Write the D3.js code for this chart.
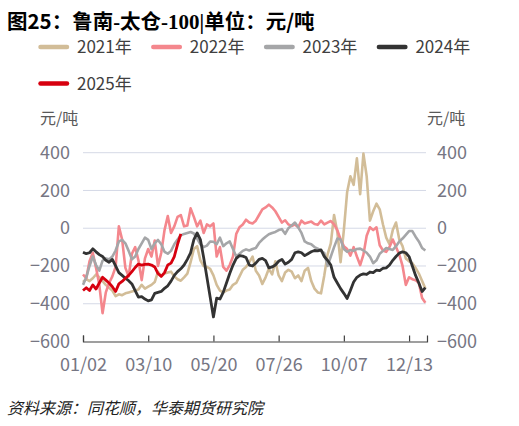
<!DOCTYPE html>
<html>
<head>
<meta charset="utf-8">
<script src="https://cdn.jsdelivr.net/npm/d3@7"></script>
<style>
  body { margin: 0; background: #fff; }
  svg { display: block; font-family: "Noto Sans CJK SC", "Noto Sans", sans-serif; }
</style>
</head>
<body>
<div id="chart"></div>
<script>
// x positions are point indices, labels put on every 20th point
var tickIdx = [0, 20, 40, 60, 80, 100];
var tickLabels = ["01/02", "03/10", "05/20", "07/26", "10/07", "12/13"];
var yTicks = [-600, -400, -200, 0, 200, 400];

var years = ["2021年", "2022年", "2023年", "2024年", "2025年"];
var colors = ["#d2bd98", "#f4878d", "#a5a6a8", "#333333", "#d7000f"];

var y2021 = [-285, -270, -280, -265, -245, -260, -280, -300, -315, -330,
  -360, -350, -355, -345, -340, -335, -330, -325, -300, -320,
  -310, -300, -285, -230, -255, -240, -235, -230, -255, -270,
  -278, -260, -240, -180, -110, -95, -170, -200, -205, -215,
  -250, -300, -330, -340, -330, -325, -300, -290, -255, -220,
  -205, -180, -150, -225, -250, -295, -260, -215, -245, -175,
  -250, -280, -235, -220, -230, -265, -250, -280, -225, -210,
  -280, -320, -340, -345, -250, -140, -80, 70, -20, -180,
  -10, 190, 275, 230, 370, 180, 395, 275, 40, 90,
  130, 100, 20, -50, -85, -10, 30, -60, -95, -160,
  -175, -185, -210, -240, -280, -320];

var y2022 = [-245, -265, -175, -130, -210, -300, -450, -340, -290, -255,
  -205, 10, -60, -210, -255, -135, -100, -170, -275, -160,
  -110, -150, -65, -200, -130, -10, 65, -25, 10, 60,
  70, 10, 15, 105, 60, 10, 40, -25, 20, 10,
  25, -150, -100, -205, -225, -195, -150, -30, 5, 20,
  45, 30, 25, 40, 70, 100, 110, 125, 110, 90,
  60, 30, 42, 20, 12, 20, 5, 40, 25, 30,
  35, 22, 18, 40, 20, 30, 38, 20, -10, -60,
  -95, -110, -145, -100, -150, -195, -140, -40, 5, -10,
  5, -90, -118, -125, -100, -60, -100, -140, -200, -300,
  -260, -270, -275, -290, -370, -395];

var y2023 = [-300, -260, -200, -150, -195, -225, -172, -160, -165, -150,
  -118, -70, -62, -80, -120, -165, -150, -110, -80, -50,
  -62, -110, -80, -62, -85, -125, -135, -120, -85, -60,
  -38, -30, -25, -20, -28, -55, -85, -100, -92, -70,
  -72, -85, -50, -95, -80, -70, -110, -150, -135, -120,
  -112, -118, -110, -105, -78, -60, -45, -32, -25, -20,
  -10, -5, -30, 0, 15, 30, 5, -25, -70, -80,
  -85, -100, -108, -120, -132, -200, -150, -100, -55, -60,
  -110, -125, -115, -120, -110, -108, -118, -130, -150, -185,
  -170, -135, -120, -105, -110, -115, -95, -70, -55, -35,
  -15, -15, -45, -70, -105, -118];

var y2024 = [-127, -135, -130, -109, -125, -140, -150, -170, -180, -165,
  -200, -235, -250, -265, -278, -295, -330, -365, -362, -375,
  -385, -380, -345, -340, -335, -318, -305, -280, -250, -230,
  -215, -195, -165, -130, -60, -25, -60, -155, -260, -365,
  -470, -370, -375, -340, -290, -240, -195, -160, -145, -148,
  -155, -195, -200, -185, -165, -160, -172, -210, -205, -195,
  -175, -165, -190, -180, -165, -130, -125, -130, -145, -135,
  -125, -118, -120, -115, -150, -170, -195, -260, -290, -320,
  -345, -372, -330, -285, -260, -248, -242, -245, -232, -235,
  -222, -225, -212, -210, -195, -170, -150, -132, -125, -130,
  -150, -200, -250, -290, -335, -315];

var y2025 = [-330, -315, -330, -300, -322, -290, -260, -275, -290, -310,
  -335, -295, -282, -265, -250, -230, -208, -190, -195, -192,
  -190, -195, -205, -240, -255, -235, -195, -185, -150, -85,
  -30];

var series = [y2021, y2022, y2023, y2024, y2025];

var svgWidth = 519, svgHeight = 426;

var svg = d3.select("#chart").append("svg")
  .attr("width", svgWidth)
  .attr("height", svgHeight);

var x = d3.scaleLinear().domain([0, 105.5]).range([83, 427]);
var y = d3.scaleLinear().domain([-600, 400]).range([341.5, 152.7]);

// title, the "-100|" part is in a serif face like the original
var title = svg.append("text")
  .attr("x", 7).attr("y", 29)
  .attr("font-size", 20.5).attr("font-weight", "bold").attr("fill", "#000");
title.append("tspan").text("图25：鲁南");
title.append("tspan").attr("font-family", "Liberation Serif").text("-");
title.append("tspan").text("太仓");
title.append("tspan").attr("font-family", "Liberation Serif").attr("font-size", 21).text("-100|");
title.append("tspan").text("单位：元/吨");

// legend
var legend = svg.append("g");
years.forEach(function(name, i) {
  var lx = 39 + (i % 4) * 112.8;
  var ly = 47 + Math.floor(i / 4) * 36.5;
  var item = legend.append("g").attr("transform", `translate(${lx}, ${ly})`);
  item.append("line")
    .attr("x1", 1.5).attr("x2", 28)
    .attr("stroke", colors[i]).attr("stroke-width", 4.5)
    .attr("stroke-linecap", "round");
  item.append("text")
    .attr("x", 38).attr("y", 6)
    .attr("font-size", 17).attr("fill", "#404040")
    .text(name);
});

// unit labels
svg.append("text").attr("x", 40).attr("y", 124)
  .attr("font-size", 16).attr("fill", "#595959").text("元/吨");
svg.append("text").attr("x", 427).attr("y", 124)
  .attr("font-size", 16).attr("fill", "#595959").text("元/吨");

// gridlines
svg.append("g").selectAll("line")
  .data(yTicks.filter(d => d > -600))
  .enter().append("line")
  .attr("x1", 83).attr("x2", 426)
  .attr("y1", d => y(d)).attr("y2", d => y(d))
  .attr("stroke", "#d5d9e6").attr("stroke-width", 1);

// left and right value axes (labels only)
var leftAxis = d3.axisLeft(y).tickValues(yTicks).tickSize(0).tickPadding(13);
var rightAxis = d3.axisRight(y).tickValues(yTicks).tickSize(0).tickPadding(10);

var yAxisL = svg.append("g").attr("transform", "translate(83,0)").call(leftAxis);
var yAxisR = svg.append("g").attr("transform", "translate(427,0)").call(rightAxis);
[yAxisL, yAxisR].forEach(function(a) {
  a.select(".domain").remove();
  a.selectAll("text")
    .attr("font-size", 18)
    .attr("font-family", "Noto Sans CJK SC")
    .attr("fill", "#767683");
});

// lines
var line = d3.line()
  .x((d, i) => x(i))
  .y(d => y(d));

var widths = [2.6, 2.6, 2.6, 2.8, 2.8];
svg.append("g").selectAll("path")
  .data(series)
  .enter().append("path")
  .attr("d", d => line(d))
  .attr("fill", "none")
  .attr("stroke", (d, i) => colors[i])
  .attr("stroke-width", (d, i) => widths[i])
  .attr("stroke-linejoin", "round");

// category axis, ticks pointing up into the plot
var bottomAxis = d3.axisBottom(x)
  .tickValues(tickIdx)
  .tickFormat((d, i) => tickLabels[i])
  .tickSizeInner(-6)
  .tickSizeOuter(-6)
  .tickPadding(17);

var xAxis = svg.append("g")
  .attr("transform", "translate(0,341.5)")
  .call(bottomAxis);
xAxis.select(".domain").attr("stroke", "#404040").attr("stroke-width", 1.2);
xAxis.selectAll(".tick line").attr("stroke", "#404040").attr("stroke-width", 1.2);
xAxis.selectAll("text")
  .attr("font-size", 18)
  .attr("font-family", "Noto Sans CJK SC")
  .attr("fill", "#767683");

// source note
svg.append("text")
  .attr("x", 7).attr("y", 414)
  .attr("font-size", 16).attr("font-style", "italic").attr("fill", "#222")
  .text("资料来源：同花顺，华泰期货研究院");
</script>
</body>
</html>
